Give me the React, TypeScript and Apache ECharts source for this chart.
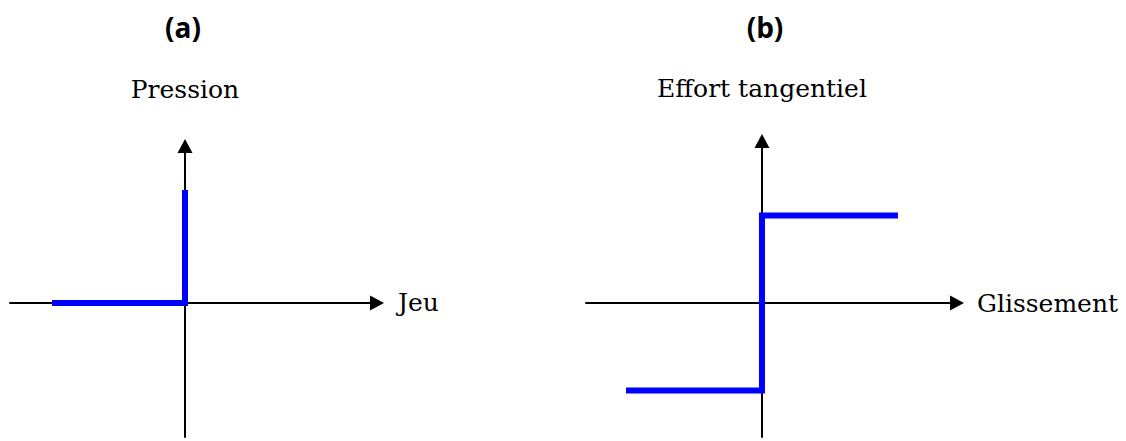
import React, { useEffect, useRef } from "react";
import * as echarts from "echarts";

// Panel (a): Pression vs Jeu
const pressionX = [-1, 0, 0];
const pressionY = [0, 0, 1];
// Panel (b): Effort tangentiel vs Glissement
const effortX = [-1, 0, 0, 1];
const effortY = [-1, -1, 1, 1];

const panelTitles = ["(a)", "(b)"];
const xNames = ["Jeu", "Glissement"];
const yNames = ["Pression", "Effort tangentiel"];

const serifFont = "DejaVu Serif";
const blue = "#0000ff";

export default function App() {
  const ref = useRef<HTMLDivElement>(null);
  useEffect(() => {
    if (!ref.current) return;
    const chart = echarts.init(ref.current, null, { renderer: "svg" });
    const axisLine = {
      show: true,
      onZero: true,
      symbol: ["none", "triangle"],
      symbolSize: [15, 14],
      lineStyle: { color: "#000", width: 2 },
    };
    const hidden = {
      axisTick: { show: false },
      axisLabel: { show: false },
      splitLine: { show: false },
    };
    chart.setOption({
      animation: false,
      backgroundColor: "#fff",
      grid: [
        { left: 10, top: 146, width: 367, height: 291 },
        { left: 586, top: 141, width: 371, height: 296 },
      ],
      xAxis: [
        {
          type: "value", gridIndex: 0, min: -1.316, max: 1.444,
          axisLine, ...hidden,
          name: xNames[0], nameLocation: "end", nameGap: 21,
          nameTextStyle: { fontFamily: serifFont, fontSize: 25, color: "#000" },
        },
        {
          type: "value", gridIndex: 1, min: -1.294, max: 1.434,
          axisLine, ...hidden,
          name: xNames[1], nameLocation: "end", nameGap: 20,
          nameTextStyle: { fontFamily: serifFont, fontSize: 25, color: "#000" },
        },
      ],
      yAxis: [
        {
          type: "value", gridIndex: 0, min: -1.186, max: 1.389,
          axisLine, ...hidden,
          name: yNames[0], nameLocation: "end", nameGap: 44,
          nameTextStyle: { fontFamily: serifFont, fontSize: 25, color: "#000", align: "center" },
        },
        {
          type: "value", gridIndex: 1, min: -1.531, max: 1.851,
          axisLine, ...hidden,
          name: yNames[1], nameLocation: "end", nameGap: 40,
          nameTextStyle: { fontFamily: serifFont, fontSize: 25, color: "#000", align: "center" },
        },
      ],
      graphic: [
        {
          type: "text", x: 183, y: 27,
          style: { text: panelTitles[0], fontFamily: "Open Sans", fontWeight: "bold", fontSize: 28, fill: "#000", align: "center", verticalAlign: "middle" },
        },
        {
          type: "text", x: 765, y: 27,
          style: { text: panelTitles[1], fontFamily: "Open Sans", fontWeight: "bold", fontSize: 28, fill: "#000", align: "center", verticalAlign: "middle" },
        },
      ],
      series: [
        {
          type: "line", xAxisIndex: 0, yAxisIndex: 0,
          data: pressionX.map((x, i) => [x, pressionY[i]]),
          showSymbol: false, lineStyle: { color: blue, width: 6, join: "miter" },
        },
        {
          type: "line", xAxisIndex: 1, yAxisIndex: 1,
          data: effortX.map((x, i) => [x, effortY[i]]),
          showSymbol: false, lineStyle: { color: blue, width: 6, join: "miter" },
        },
      ],
    });
    return () => chart.dispose();
  }, []);
  return (
    <div
      ref={ref}
      style={{ position: "fixed", left: 0, top: 0, width: 1126, height: 441, background: "#fff" }}
    />
  );
}
